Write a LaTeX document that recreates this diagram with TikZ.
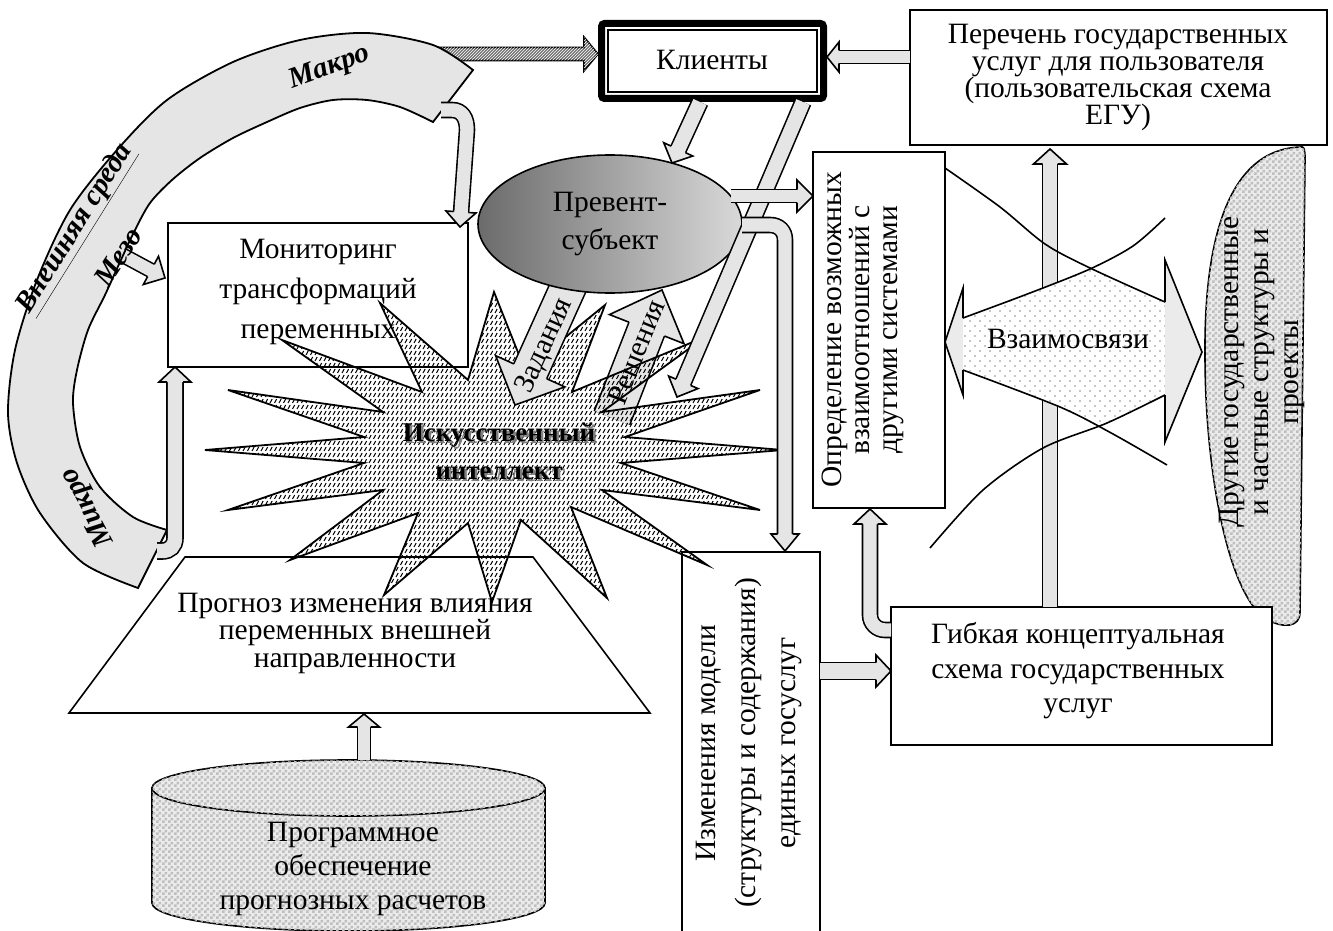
\documentclass[tikz,border=0pt]{standalone}
\usepackage{fontspec}
\setmainfont{Liberation Serif}
\usetikzlibrary{calc,patterns,shapes.geometric}

\pgfdeclarepatternformonly{stardash}{\pgfqpoint{-1pt}{-1pt}}{\pgfqpoint{4pt}{5.5pt}}{\pgfqpoint{4.5pt}{6pt}}{%
 \pgfsetlinewidth{1pt}\pgfpathmoveto{\pgfqpoint{0pt}{0pt}}\pgfpathlineto{\pgfqpoint{2.2pt}{4pt}}\pgfusepath{stroke}}
\pgfdeclarepatternformonly{sparsedots}{\pgfqpoint{-1pt}{-1pt}}{\pgfqpoint{6pt}{6pt}}{\pgfqpoint{10pt}{10pt}}{%
 \pgfpathcircle{\pgfqpoint{0pt}{0pt}}{0.8pt}\pgfpathcircle{\pgfqpoint{5pt}{5pt}}{0.8pt}\pgfusepath{fill}}
\pgfdeclarepatternformonly{checker}{\pgfqpoint{0pt}{0pt}}{\pgfqpoint{6pt}{6pt}}{\pgfqpoint{6pt}{6pt}}{%
 \pgfpathrectangle{\pgfqpoint{0pt}{0pt}}{\pgfqpoint{3pt}{3pt}}\pgfpathrectangle{\pgfqpoint{3pt}{3pt}}{\pgfqpoint{3pt}{3pt}}\pgfusepath{fill}}

\newcommand{\arwlw}{1.6}
% head: base centre, tip, inner shaft width, half head width
\newcommand{\dhead}[5][]{%
 \pgfmathsetlengthmacro{\dahs}{(#4+\arwlw)/2}%
 \filldraw[line width=\arwlw pt, fill=black!10, line join=miter, #1] ($(#2)!\dahs!90:(#3)$) -- ($(#2)!#5pt!90:(#3)$) -- (#3) -- ($(#2)!#5pt!-90:(#3)$) -- ($(#2)!\dahs!-90:(#3)$);}
% straight block arrow with open start: from, tip, inner width, half head, head length
\newcommand{\darrow}[6][]{%
 \coordinate (bac) at ($(#3)!#6pt!(#2)$);
 \coordinate (bad) at ($(bac)!1pt!(#3)$);
 \draw[line width=\arwlw pt, double=black!10, double distance=#4pt] (#2) -- (bad);
 \dhead[#1]{bac}{#3}{#4}{#5}}
% closed polygon block arrow: from, tip, half shaft, half head, head length
\newcommand{\barrow}[6][]{%
 \coordinate (bac) at ($(#3)!#6pt!(#2)$);
 \draw[line width=\arwlw pt, line join=miter, #1] ($(#2)!#4pt!90:(#3)$) -- ($(bac)!#4pt!90:(#3)$) -- ($(bac)!#5pt!90:(#3)$) -- (#3) -- ($(bac)!#5pt!-90:(#3)$) -- ($(bac)!#4pt!-90:(#3)$) -- ($(#2)!#4pt!-90:(#3)$) -- cycle;}

\begin{document}
\begin{tikzpicture}[x=1pt,y=-1pt,
 box/.style={draw, line width=1.3pt, fill=white, inner sep=0pt},
 txt/.style={font={\fontsize{29.5}{#1}\selectfont}, align=center, inner sep=0pt},
 lbl/.style={font={\fontsize{29}{29}\selectfont\bfseries\itshape}, inner sep=0pt},
 dshaft/.style={line width=1.6pt, double=black!10},
 curve/.style={line width=1.6pt},
 checkfill/.style={fill=black!8, postaction={pattern=checker, pattern color=black!25}}
]
\useasboundingbox (0,0) rectangle (1333,931);
\clip (0,0) rectangle (1333,931);
\fill[white] (0,0) rectangle (1333,931);

% ---- Perechen box
\node[box, minimum width=417pt, minimum height=135pt] (perbox) at (1118.5,77.5) {};
\node[txt=27] (per) at (1118,77) {Перечень государственных\\услуг для пользователя\\(пользовательская схема\\ЕГУ)};

% ---- Other structures shape
\draw[line width=1.6pt, checkfill] (1302,147) .. controls (1230,148) and (1204,235) .. (1205,355) .. controls (1205,470) and (1228,598) .. (1268,620) .. controls (1283,628) and (1300,628) .. (1300,612) -- (1305,158) .. controls (1305,150) and (1304,147) .. (1302,147) -- cycle;
\node[txt=30, rotate=90] (oth) at (1262,372) {Другие государственные\\и частные структуры и\\проекты};

% ---- Opredelenie box
\node[box, minimum width=132pt, minimum height=356pt] (oprbox) at (879,330) {};
\node[txt=28, rotate=90] (opr) at (863,330) {Определение возможных\\взаимоотношений с\\другими системами};

% ---- Gibkaya box
\node[box, minimum width=381pt, minimum height=138pt] (gibbox) at (1081.5,676) {};
\node[txt=34.5] (gib) at (1078,671) {Гибкая концептуальная\\схема государственных\\услуг};

% Gibkaya -> Perechen
\coordinate (gp1) at (1050,607);
\coordinate (gp2) at (1050,149);
\darrow{gp1}{gp2}{13.4}{16.5}{15}

% ---- Vzaimosvyazi double arrow
\fill[white, postaction={pattern=sparsedots, pattern color=black!45}] (945,342) -- (963,288) -- (963,318) -- plot[smooth] coordinates {(963,318) (1030,293) (1090,269)} -- plot[smooth] coordinates {(1090,269) (1128,285) (1165,302)} -- (1165,260) -- (1202,352) -- (1165,442) -- (1165,395) -- plot[smooth] coordinates {(1165,395) (1132,410) (1102,425)} -- plot[smooth] coordinates {(1102,425) (1060,407) (963,370)} -- (963,395) -- cycle;
\fill[black!8] (945,342) -- (963,288) -- (963,395) -- cycle;
\fill[black!8] (1165,260) -- (1202,352) -- (1165,442) -- cycle;
\draw[curve, line join=miter] (963,318) -- (963,288) -- (945,342) -- (963,395) -- (963,370);
\draw[curve, line join=miter] (1165,302) -- (1165,260) -- (1202,352) -- (1165,442) -- (1165,395);
\draw[curve] plot[smooth] coordinates {(945,168) (1000,207) (1045,244) (1090,268) (1165,302)};
\draw[curve] plot[smooth] coordinates {(1165,218) (1133,246) (1090,269) (1030,293) (963,318)};
\draw[curve] plot[smooth] coordinates {(963,370) (1060,407) (1113,434) (1167,465)};
\draw[curve] plot[smooth] coordinates {(1165,395) (1107,423) (1043,448) (983,490) (930,548)};
\node[txt=29] (vz) at (1068,339) {Взаимосвязи};

% ---- Izmeneniya box
\node[box, minimum width=138pt, minimum height=388pt] (izmbox) at (751,746) {};
\node[txt=40, rotate=90] (izm) at (749,743) {Изменения модели\\(структуры и содержания)\\единых госуслуг};

% Izmeneniya -> Gibkaya
\coordinate (ig1) at (820,671);
\coordinate (ig2) at (891,671);
\darrow{ig1}{ig2}{15.4}{16}{15}

% Gibkaya -> Opredelenie (bent)
\coordinate (go1) at (891,630);
\coordinate (go2) at (870,524);
\coordinate (go3) at (870,509);
\draw[dshaft, double distance=13.4pt] (go1) -- (885,630) .. controls (876.7,630) and (870,623.3) .. (870,615) -- (870,523);
\dhead{go2}{go3}{13.4}{16}

% ---- Monitoring box
\node[box, minimum width=300pt, minimum height=144pt] (monbox) at (318,295) {};
\node[txt=40] (mon) at (318,292) {Мониторинг\\трансформаций\\переменных};

% ---- Trapezoid
\draw[line width=1.6pt, fill=white, line join=miter] (185,557) -- (533,557) -- (650,713) -- (69,713) -- cycle;
\node[txt=27.5] (prog) at (355,633) {Прогноз изменения влияния\\переменных внешней\\направленности};

% ---- Cylinder
\draw[line width=1.6pt, checkfill] (152,788) -- (152,903) .. controls (152,918.5) and (239.5,931) .. (348.5,931) .. controls (457.5,931) and (545,918.5) .. (545,903) -- (545,788) -- cycle;
\draw[line width=1.6pt, checkfill] (348.5,788) ellipse [x radius=196.5pt, y radius=28pt];
\node[txt=34] (cyl) at (353,869) {Программное\\обеспечение\\прогнозных расчетов};
\coordinate (cp1) at (364,760);
\coordinate (cp2) at (364,714);
\darrow{cp1}{cp2}{11.4}{15.5}{13}

% ---- hatched arrow to clients, Mezo arrow (under the band)
\coordinate (h1) at (425,54);
\coordinate (h2) at (598,54);
\barrow[fill=black!55, postaction={pattern=north east lines, pattern color=white}]{h1}{h2}{6.5}{17}{14}
\coordinate (m1) at (100,243);
\coordinate (m2) at (165,278);
\darrow{m1}{m2}{12.4}{16}{16}

% ---- External environment band
\draw[line width=1.8pt, fill=black!10, line join=miter] plot[smooth] coordinates {(473,70) (433,45) (367,33) (300,40) (233,62) (167,100) (117,150) (70,210) (37,280) (15,350) (8,413) (17,463) (40,513) (83,563) (138,588)} -- plot[smooth] coordinates {(167,530) (133,517) (100,487) (80,447) (73,403) (77,370) (88,330) (105,295) (120,262) (134,232) (150,203) (172,180) (200,158) (233,138) (267,122) (300,108) (333,100) (367,100) (400,107) (433,122)} -- cycle;
\node[lbl, rotate=20] (makro) at (330,68) {Макро};
\node[lbl, rotate=58] (vsreda) at (76,229) {\underline{Внешняя среда}};
\node[lbl, rotate=57] (mezo) at (118,257) {Мезо};
\node[lbl, rotate=118] (mikro) at (88,507) {Микро};

% Makro -> Monitoring
\coordinate (mk1) at (441,110);
\coordinate (mk2) at (461,212);
\coordinate (mk3) at (460,227);
\draw[dshaft, double distance=13.4pt] (mk1) -- (452,110) .. controls (462,110) and (467,118) .. (467,130) -- (461,213);
\dhead{mk2}{mk3}{13.4}{15}

% Mikro -> Monitoring
\coordinate (mi1) at (157,551);
\coordinate (mi2) at (175,382);
\coordinate (mi3) at (175,367);
\draw[dshaft, double distance=14.4pt] (mi1) -- (162,551) .. controls (170,551) and (175,546) .. (175,538) -- (175,381);
\dhead{mi2}{mi3}{14.4}{16}

% ---- Clients
\node[draw, line width=7pt, rounded corners=3pt, minimum width=222pt, minimum height=75pt, inner sep=0pt, fill=white] (klf) at (712.5,61) {};
\node[draw, line width=1.2pt, minimum width=209pt, minimum height=62pt, inner sep=0pt] (kli) at (712.5,61) {};
\node[txt=29] (kl) at (712,60) {Клиенты};
\coordinate (pk1) at (910,57);
\coordinate (pk2) at (827,57);
\darrow{pk1}{pk2}{11.4}{15}{12}

% ---- Resheniya arrow
\coordinate (r1) at (612,418);
\coordinate (r2) at (662,290);
\darrow{r1}{r2}{36.4}{40}{42}
\node[txt=29, rotate=68] (resh) at (636,352) {Решения};

% ---- Star (artificial intelligence)
\draw[line width=1.8pt, line join=miter, pattern=stardash, pattern color=black] (205,450) -- (364,437) -- (228,390) -- (383,412) -- (282,340) -- (422,392) -- (380,303) -- (468,380) -- (494,292) -- (525,370) -- (605,305) -- (572,392) -- (705,337) -- (602,412) -- (760,390) -- (625,437) -- (783,450) -- (621,463) -- (760,510) -- (602,490) -- (707,565) -- (571,507) -- (607,598) -- (521,520) -- (492,602) -- (468,523) -- (384,595) -- (418,513) -- (290,560) -- (383,490) -- (228,510) -- (364,463) -- cycle;

% ---- Zadaniya arrow
\coordinate (z1) at (575,272);
\coordinate (z2) at (515,405);
\darrow{z1}{z2}{34.4}{38}{37}
\node[txt=29, rotate=65.7] (zad) at (545,346) {Задания};

\node[font={\fontsize{27}{38}\selectfont\bfseries}, align=center, inner sep=0pt, text=black!50] (ais) at (501.5,453.5) {Искусственный\\интеллект};
\node[font={\fontsize{27}{38}\selectfont\bfseries}, align=center, inner sep=0pt] (ai) at (499,451) {Искусственный\\интеллект};

% ---- Prevent-subject ellipse
\node[ellipse, draw, line width=1.6pt, minimum width=264pt, minimum height=138pt, inner sep=0pt, left color=black!58, right color=black!15] (prev) at (610,224) {};
\node[txt=38] (prevt) at (610,224) {Превент-\\субъект};

% ---- arrows from clients / prevent-subject
\coordinate (l1) at (803,102);
\coordinate (l2) at (677,397);
\darrow{l1}{l2}{14.4}{16}{16}
\coordinate (kp1) at (700,102);
\coordinate (kp2) at (672,163);
\darrow{kp1}{kp2}{14.4}{16}{15}
\coordinate (po1) at (731,196);
\coordinate (po2) at (813,196);
\darrow{po1}{po2}{11.4}{16}{16}
\coordinate (pi1) at (742,225);
\coordinate (pi2) at (785,534);
\coordinate (pi3) at (785,551);
\draw[dshaft, double distance=13.4pt] (pi1) -- (770,225) .. controls (779,225) and (785,231) .. (785,240) -- (785,535);
\dhead{pi2}{pi3}{13.4}{14}
\end{tikzpicture}
\end{document}
